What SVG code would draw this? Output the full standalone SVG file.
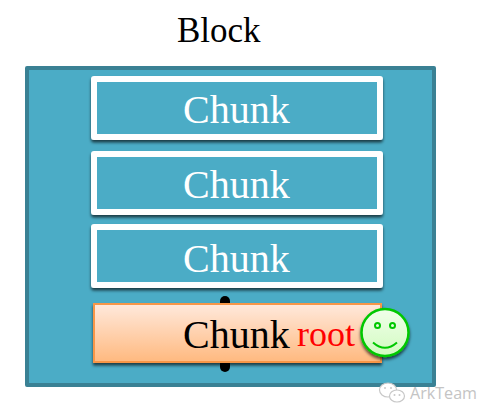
<svg xmlns="http://www.w3.org/2000/svg" width="494" height="417" viewBox="0 0 494 417">
<style>
.serif{font-family:"Liberation Serif","Times New Roman",serif}
.chunk{fill:#4bacc6;stroke:#fff;stroke-width:6;stroke-linejoin:round;filter:url(#sh)}
.ct{font-size:40px;fill:#fff}
.eye{fill:none;stroke:#00c800;stroke-width:2}
.wm{fill:#fff;stroke:#c8c8c8;stroke-width:1.200}
.dot{fill:#c8c8c8}
</style>
<defs>
<filter id="sh" x="-10%" y="-20%" width="120%" height="140%"><feDropShadow dx="0" dy="2.500" stdDeviation="1.500" flood-color="#000" flood-opacity="0.65"/></filter>
<linearGradient id="og" x1="0" y1="0" x2="0" y2="1"><stop offset="0" stop-color="#ffe9dc"/><stop offset="1" stop-color="#ffb97f"/></linearGradient>
<linearGradient id="gg" x1="0" y1="0" x2="0" y2="1"><stop offset="0" stop-color="#f0ffea"/><stop offset="1" stop-color="#d2fbc0"/></linearGradient>
</defs>
<rect width="494" height="417" fill="#fff"/>
<text id="title" class="serif" x="177" y="42" font-size="35" fill="#000">Block</text>
<g id="block"><rect x="27" y="68" width="407" height="317" fill="#4bacc6" stroke="#3a8194" stroke-width="4" stroke-linejoin="round"/></g>
<g id="chunk1"><rect class="chunk" x="94" y="79" width="286" height="58"/><text class="serif ct" x="183" y="123">Chunk</text></g>
<g id="chunk2"><rect class="chunk" x="94" y="154" width="286" height="58"/><text class="serif ct" x="183" y="198">Chunk</text></g>
<g id="chunk3"><rect class="chunk" x="94" y="227" width="286" height="58"/><text class="serif ct" x="183" y="272">Chunk</text></g>
<g id="connectors"><line x1="225" y1="301" x2="225" y2="367" stroke="#000" stroke-width="10" stroke-linecap="round"/></g>
<g id="root-chunk"><rect x="94" y="304" width="287" height="58" fill="url(#og)" stroke="#f79646" stroke-width="2" filter="url(#sh)"/>
<text class="serif" x="183" y="348" font-size="40" fill="#000">Chunk</text>
<text class="serif" x="297" y="346" font-size="36" fill="#f00">root</text></g>
<g id="smiley"><circle cx="385" cy="332.500" r="23.500" fill="url(#gg)" stroke="#00c800" stroke-width="2.500" filter="url(#sh)"/>
<circle class="eye" cx="377.500" cy="325.500" r="2.500"/><circle class="eye" cx="392.500" cy="325.500" r="2.500"/>
<path d="M373 342.500Q385 353 397 342.500" fill="none" stroke="#00c800" stroke-width="2"/></g>
<g id="watermark"><ellipse class="wm" cx="388" cy="390" rx="8.500" ry="7"/><ellipse class="wm" cx="397" cy="396" rx="7.500" ry="6"/>
<circle class="dot" cx="385" cy="388" r="1"/><circle class="dot" cx="391" cy="388" r="1"/><circle class="dot" cx="394.500" cy="395" r="1"/><circle class="dot" cx="399.500" cy="395" r="1"/>
<text x="410" y="399" font-size="17" fill="#c4c4c4" font-family="'Open Sans','Liberation Sans',Arial,sans-serif" textLength="67" lengthAdjust="spacingAndGlyphs">ArkTeam</text></g>
</svg>
